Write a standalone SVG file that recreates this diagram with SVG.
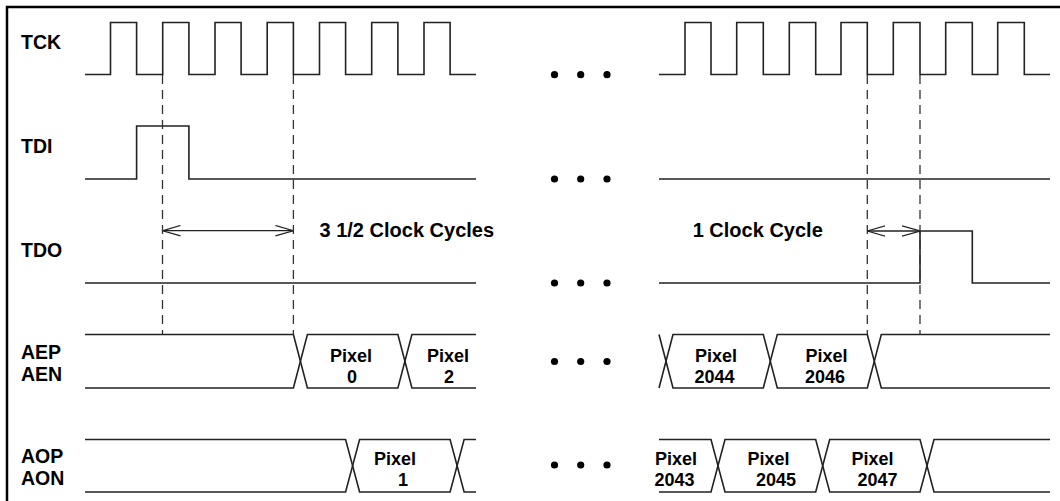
<svg xmlns="http://www.w3.org/2000/svg" width="1060" height="501" viewBox="0 0 1060 501">
<defs>
<style>
.sig{fill:none;stroke:#222;stroke-width:1.6;stroke-linejoin:miter}
.dash{fill:none;stroke:#333;stroke-width:1.3;stroke-dasharray:9 6}
.arr{fill:none;stroke:#222;stroke-width:1.3}
.lbl{font-family:"Liberation Sans",Arial,sans-serif;font-weight:bold;font-size:19.5px;fill:#000}
.pix{font-family:"Liberation Sans",Arial,sans-serif;font-weight:bold;font-size:18px;fill:#000;text-anchor:middle}
.note{font-family:"Liberation Sans",Arial,sans-serif;font-weight:bold;font-size:20px;fill:#000}
.dot{fill:#000}
</style>
<marker id="oa" viewBox="0 0 18 12" refX="18" refY="6" markerWidth="18" markerHeight="12" markerUnits="userSpaceOnUse" orient="auto-start-reverse">
<path d="M0,0.8 L18,6 L0,11.2" fill="none" stroke="#222" stroke-width="1.3"/>
</marker>
</defs>
<rect x="7" y="7" width="1070" height="510" fill="#fff" stroke="#000" stroke-width="2.5"/>

<g id="TCK">
<text class="lbl" x="21" y="49">TCK</text>
<path class="sig" d="M85,74.5 H110.5 V22.5 H136.6 V74.5 H162.7 V22.5 H188.9 V74.5 H215 V22.5 H241.1 V74.5 H267.2 V22.5 H293.4 V74.5 H319.5 V22.5 H345.6 V74.5 H371.7 V22.5 H397.9 V74.5 H424 V22.5 H450.1 V74.5 H476"/>
<path class="sig" d="M659,74.5 H685 V22.5 H711 V74.5 H736.7 V22.5 H763.3 V74.5 H789.3 V22.5 H815.7 V74.5 H841 V22.5 H867.3 V74.5 H893.3 V22.5 H920 V74.5 H945.7 V22.5 H972.3 V74.5 H997.7 V22.5 H1024.3 V74.5 H1050"/>
</g>

<g id="TDI">
<text class="lbl" x="21" y="153">TDI</text>
<path class="sig" d="M85,179 H136.6 V126 H188.9 V179 H476"/>
<path class="sig" d="M659,179 H1050"/>
</g>

<g id="TDO">
<text class="lbl" x="21" y="257">TDO</text>
<path class="sig" d="M85,283 H476"/>
<path class="sig" d="M659,283 H920 V231 H972.3 V283 H1050"/>
</g>

<g id="AEP">
<text class="lbl" x="21" y="359">AEP</text>
<text class="lbl" x="21" y="381">AEN</text>
<path class="sig" d="M85,334.5 H293.4 L307.4,388 H397.9 L411.9,334.5 H476"/>
<path class="sig" d="M85,388 H293.4 L307.4,334.5 H397.9 L411.9,388 H476"/>
<path class="sig" d="M659,334.5 L673,388 H763.3 L777.3,334.5 H867.3 L881.3,388 H1050"/>
<path class="sig" d="M659,388 L673,334.5 H763.3 L777.3,388 H867.3 L881.3,334.5 H1050"/>
<text class="pix" x="351" y="362">Pixel</text>
<text class="pix" x="352" y="382.5">0</text>
<text class="pix" x="448" y="362">Pixel</text>
<text class="pix" x="449" y="382.5">2</text>
<text class="pix" x="716" y="362">Pixel</text>
<text class="pix" x="714.5" y="382.5">2044</text>
<text class="pix" x="826.5" y="362">Pixel</text>
<text class="pix" x="825" y="382.5">2046</text>
</g>

<g id="AOP">
<text class="lbl" x="21" y="463">AOP</text>
<text class="lbl" x="21" y="485">AON</text>
<path class="sig" d="M85,439.5 H345.6 L359.6,492 H450.1 L464.1,439.5 H476"/>
<path class="sig" d="M85,492 H345.6 L359.6,439.5 H450.1 L464.1,492 H476"/>
<path class="sig" d="M659,439.5 H711 L725,492 H815.7 L829.7,439.5 H920 L934,492 H1050"/>
<path class="sig" d="M659,492 H711 L725,439.5 H815.7 L829.7,492 H920 L934,439.5 H1050"/>
<text class="pix" x="395" y="465">Pixel</text>
<text class="pix" x="403" y="485.5">1</text>
<text class="pix" x="676" y="465">Pixel</text>
<text class="pix" x="674.5" y="485.5">2043</text>
<text class="pix" x="768.5" y="465">Pixel</text>
<text class="pix" x="776" y="485.5">2045</text>
<text class="pix" x="872.5" y="465">Pixel</text>
<text class="pix" x="877.5" y="485.5">2047</text>
</g>

<g id="ellipsis">
<circle class="dot" cx="554.5" cy="74.7" r="3.6"/><circle class="dot" cx="580.7" cy="74.7" r="3.6"/><circle class="dot" cx="607" cy="74.7" r="3.6"/>
<circle class="dot" cx="554.5" cy="179" r="3.6"/><circle class="dot" cx="580.7" cy="179" r="3.6"/><circle class="dot" cx="607" cy="179" r="3.6"/>
<circle class="dot" cx="554.5" cy="283" r="3.6"/><circle class="dot" cx="580.7" cy="283" r="3.6"/><circle class="dot" cx="607" cy="283" r="3.6"/>
<circle class="dot" cx="554.5" cy="361.5" r="3.6"/><circle class="dot" cx="580.7" cy="361.5" r="3.6"/><circle class="dot" cx="607" cy="361.5" r="3.6"/>
<circle class="dot" cx="554.5" cy="465" r="3.6"/><circle class="dot" cx="580.7" cy="465" r="3.6"/><circle class="dot" cx="607" cy="465" r="3.6"/>
</g>

<g id="connectors">
<line class="dash" x1="162.5" y1="75" x2="162.5" y2="334"/>
<line class="dash" x1="293.4" y1="75" x2="293.4" y2="334"/>
<line class="dash" x1="867.3" y1="75" x2="867.3" y2="334"/>
<line class="dash" x1="920" y1="75" x2="920" y2="334"/>
<line class="arr" x1="162.5" y1="230.7" x2="293.4" y2="230.7" marker-start="url(#oa)" marker-end="url(#oa)"/>
<line class="arr" x1="867.3" y1="231" x2="920" y2="231" marker-start="url(#oa)" marker-end="url(#oa)"/>
</g>

<g id="annotations">
<text class="note" x="319.5" y="236.5">3 1/2 Clock Cycles</text>
<text class="note" x="692.7" y="236.5">1 Clock Cycle</text>
</g>
</svg>
